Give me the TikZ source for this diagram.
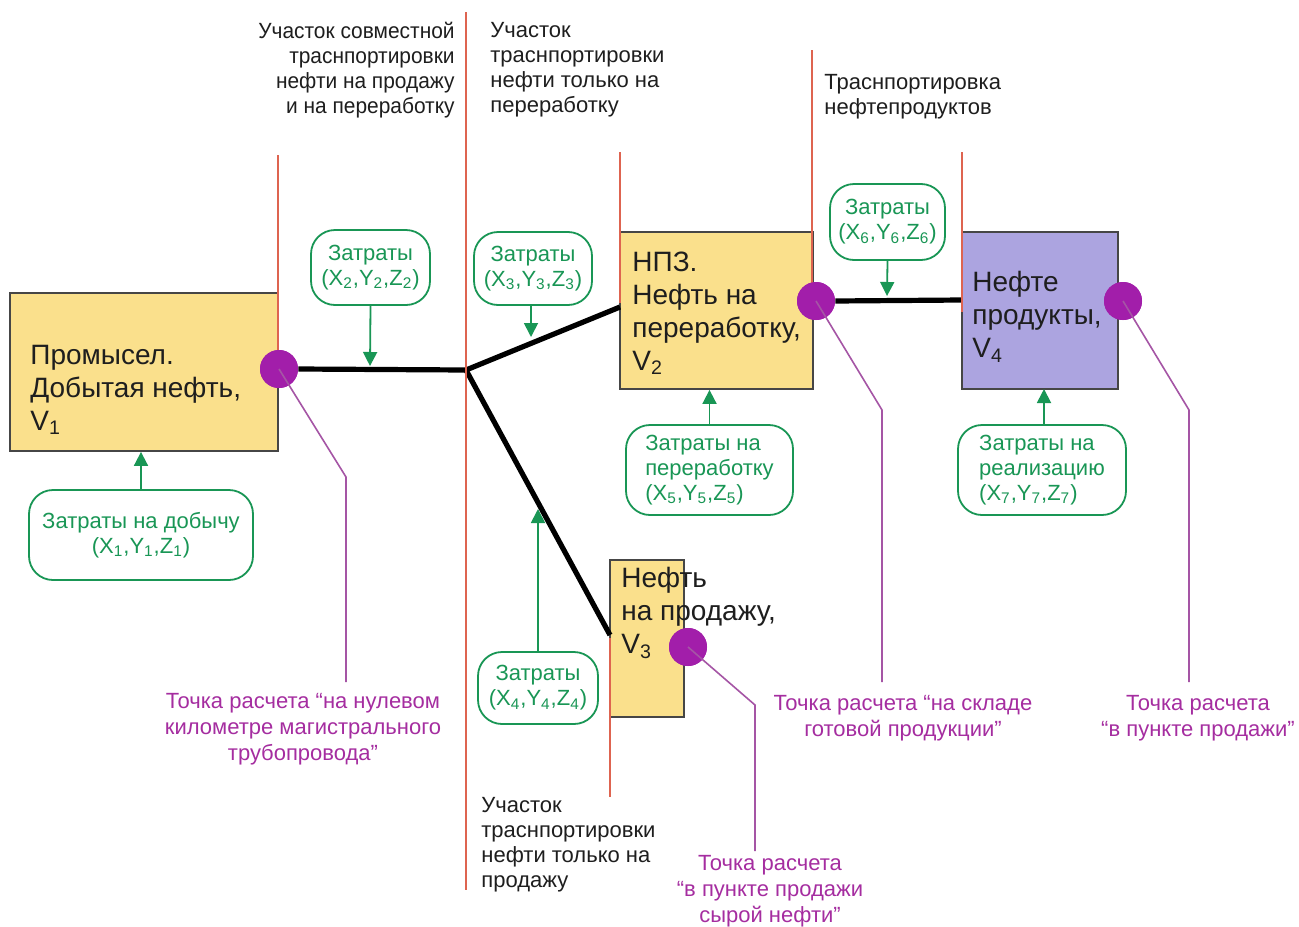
\documentclass[tikz,border=0pt]{standalone}
\usepackage{fontspec}
\setmainfont{Liberation Sans}
\newfontfamily\narrowfont[FakeStretch=0.95]{Liberation Sans}
\usetikzlibrary{arrows.meta}
\definecolor{redc}{RGB}{222,100,80}
\definecolor{greenc}{RGB}{25,150,85}
\definecolor{yellowc}{RGB}{250,224,140}
\definecolor{violetc}{RGB}{172,164,224}
\definecolor{borderc}{RGB}{70,70,70}
\definecolor{purplec}{RGB}{162,30,170}
\definecolor{leaderc}{RGB}{165,85,165}
\definecolor{magc}{RGB}{165,45,160}
\definecolor{textc}{RGB}{30,30,30}
\newcommand{\sbs}[1]{\textsubscript{#1}}
\begin{document}
\begin{tikzpicture}[x=0.5pt,y=-0.5pt,
  redline/.style={draw=redc,line width=0.75pt},
  pipe/.style={draw=black,line width=2.6pt},
  stagebox/.style={draw=borderc,line width=0.9pt,inner sep=0pt},
  boxtext/.style={anchor=west,align=left,inner sep=0pt,text=textc,font=\fontsize{14}{16.5}\selectfont},
  cost/.style={draw=greenc,rounded corners=12pt,line width=0.9pt,text=greenc,
    font=\fontsize{11}{12.5}\selectfont,inner sep=0pt},
  costarrow/.style={draw=greenc,line width=0.9pt,-{Triangle[width=7pt,length=7pt]}},
  calcpoint/.style={circle,fill=purplec,minimum size=19pt,inner sep=0pt},
  leader/.style={draw=leaderc,line width=0.8pt},
  ptlabel/.style={text=magc,align=center,inner sep=0pt,font=\fontsize{11}{13}\selectfont},
  seclabel/.style={text=textc,inner sep=0pt,font=\fontsize{11}{12.5}\selectfont}]
\useasboundingbox (0,0) rectangle (1299,926);
\fill[white] (0,0) rectangle (1299,926);

% coordinates
\coordinate (J) at (466,370);
\coordinate (b2w) at (620,307);
\coordinate (b3w) at (610,635);
\coordinate (b4w) at (962,300);

% stage boxes
\node[stagebox,fill=yellowc,minimum width=134pt,minimum height=79pt] (b1) at (144,372) {};
\node[stagebox,fill=yellowc,minimum width=96.5pt,minimum height=78.5pt] (b2) at (716.5,310.5) {};
\node[stagebox,fill=violetc,minimum width=78pt,minimum height=78.5pt] (b4) at (1040,310.5) {};
\node[stagebox,fill=yellowc,minimum width=37pt,minimum height=78.5pt] (b3) at (647,638.5) {};

% points
\node[calcpoint] (c1) at (279,369) {};
\node[calcpoint] (c2) at (816,301) {};
\node[calcpoint] (c4) at (1123,301) {};
\node[calcpoint] (c3) at (688,647) {};

% pipes
\draw[pipe] (c1.east) -- (J);
\draw[pipe] (J) -- (b2w);
\draw[pipe] (J) -- (b3w);
\draw[pipe] (c2.east) -- (b4w);

% box texts
\node[boxtext] (tb1) at (30,390) {Промысел.\\Добытая нефть,\\V\sbs{1}};
\node[boxtext] (tb2) at (632,313) {НПЗ.\\Нефть на\\переработку,\\V\sbs{2}};
\node[boxtext] (tb4) at (972,317) {Нефте\\продукты,\\V\sbs{4}};
\node[boxtext] (tb3) at (621,613) {Нефть\\на продажу,\\V\sbs{3}};

% red section lines
\coordinate (r1a) at (278,155); \coordinate (r1b) at (278,355);
\coordinate (r2a) at (466,12);  \coordinate (r2b) at (466,890);
\coordinate (r3a) at (620,152); \coordinate (r3b) at (620,303);
\coordinate (r4a) at (812,50);  \coordinate (r4b) at (812,290);
\coordinate (r5a) at (962,152); \coordinate (r5b) at (962,312);
\coordinate (r6a) at (610,638); \coordinate (r6b) at (610,797);
\draw[redline] (r1a) -- (r1b);
\draw[redline] (r2a) -- (r2b);
\draw[redline] (r3a) -- (r3b);
\draw[redline] (r4a) -- (r4b);
\draw[redline] (r5a) -- (r5b);
\draw[redline] (r6a) -- (r6b);

% redraw points on top
\node[calcpoint] at (c1) {};
\node[calcpoint] at (c2) {};
\node[calcpoint] at (c4) {};
\node[calcpoint] at (c3) {};

% leaders
\coordinate (k1) at (346,477); \coordinate (e1) at (346,682);
\coordinate (k2) at (882,410); \coordinate (e2) at (882,682);
\coordinate (k4) at (1189,410); \coordinate (e4) at (1189,682);
\coordinate (k3) at (755,705); \coordinate (e3) at (755,851);
\draw[leader] (c1.center) -- (k1) -- (e1);
\draw[leader] (c2.center) -- (k2) -- (e2);
\draw[leader] (c4.center) -- (k4) -- (e4);
\draw[leader] (c3.center) -- (k3) -- (e3);

% cost boxes
\node[cost,align=center,minimum width=112pt,minimum height=45pt] (C1) at (141,535)
  {Затраты на добычу\\(X\sbs{1},Y\sbs{1},Z\sbs{1})};
\node[cost,align=center,minimum width=59.5pt,minimum height=37.5pt] (C2) at (370.5,267.5)
  {Затраты\\(X\sbs{2},Y\sbs{2},Z\sbs{2})};
\node[cost,align=center,minimum width=59pt,minimum height=36.5pt] (C3) at (533,268.5)
  {Затраты\\(X\sbs{3},Y\sbs{3},Z\sbs{3})};
\node[cost,align=center,minimum width=60pt,minimum height=36pt] (C4) at (538,688)
  {Затраты\\(X\sbs{4},Y\sbs{4},Z\sbs{4})};
\node[cost,minimum width=83.5pt,minimum height=45pt] (C5) at (709.5,470)
  {\begin{tabular}{@{}l@{}}Затраты на\\переработку\\(X\sbs{5},Y\sbs{5},Z\sbs{5})\end{tabular}};
\node[cost,align=center,minimum width=57.5pt,minimum height=38pt] (C6) at (887.5,222)
  {Затраты\\(X\sbs{6},Y\sbs{6},Z\sbs{6})};
\node[cost,minimum width=84pt,minimum height=45pt] (C7) at (1042,470)
  {\begin{tabular}{@{}l@{}}Затраты на\\реализацию\\(X\sbs{7},Y\sbs{7},Z\sbs{7})\end{tabular}};

% cost arrows
\coordinate (a2) at (370,366);
\coordinate (a3) at (531,337);
\coordinate (a4) at (538,509);
\coordinate (a6) at (887,296);
\coordinate (a7) at (1044,389);
\draw[costarrow] (C1.north) -- (C1.north |- b1.south);
\draw[costarrow] (C2.south) -- (a2);
\draw[costarrow] (C3.south -| a3) -- (a3);
\draw[costarrow] (C4.north) -- (a4);
\draw[costarrow] (C5.north) -- (C5.north |- b2.south);
\draw[costarrow] (C6.south) -- (a6);
\draw[costarrow] (C7.north -| a7) -- (a7);

% section labels
\node[seclabel,anchor=east,align=right,font=\narrowfont\fontsize{11}{12.5}\selectfont] (s1) at (455,70)
  {Участок совместной\\траснпортировки\\нефти на продажу\\и на переработку};
\node[seclabel,anchor=west,align=left] (s2) at (490,70)
  {Участок\\траснпортировки\\нефти только на\\переработку};
\node[seclabel,anchor=west,align=left] (s3) at (824,97)
  {Траснпортировка\\нефтепродуктов};
\node[seclabel,anchor=west,align=left] (s4) at (481,845)
  {Участок\\траснпортировки\\нефти только на\\продажу};

% point labels
\node[ptlabel] (t1) at (303,729) {Точка расчета “на нулевом\\километре магистрального\\трубопровода”};
\node[ptlabel] (t2) at (903,718) {Точка расчета “на складе\\готовой продукции”};
\node[ptlabel] (t3) at (1198,718) {Точка расчета\\“в пункте продажи”};
\node[ptlabel] (t4) at (770,891) {Точка расчета\\“в пункте продажи\\сырой нефти”};
\end{tikzpicture}
\end{document}
